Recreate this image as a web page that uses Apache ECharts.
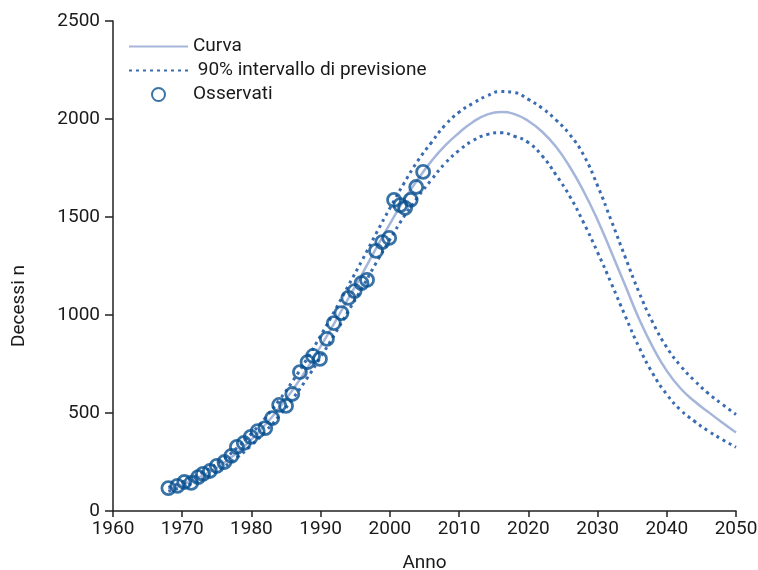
<!DOCTYPE html>
<html>
<head>
<meta charset="utf-8">
<script src="https://cdn.jsdelivr.net/npm/echarts@6/dist/echarts.min.js"></script>
<style>
  html, body { margin: 0; padding: 0; background: #fff; }
  #chart { width: 758px; height: 570px; }
</style>
</head>
<body>
<div id="chart"></div>
<script>
// fitted curve and 90% band, every 2 years
const curveYears = [1968, 1970, 1972, 1974, 1976, 1978, 1980, 1982, 1984, 1986, 1988, 1990, 1992, 1994, 1996, 1998,
    2000, 2002, 2004, 2006, 2008, 2010, 2012, 2014, 2016, 2018, 2020, 2022, 2024, 2026, 2028, 2030, 2032, 2034,
    2036, 2038, 2040, 2042, 2044, 2046, 2048, 2050]
const curveMid = [110, 135, 165, 200, 245, 300, 365, 440, 525, 620, 725, 840, 960, 1085, 1210, 1340,
    1465, 1585, 1690, 1785, 1865, 1930, 1985, 2022, 2036, 2025, 1990, 1935, 1858, 1755, 1630, 1485, 1320, 1150,
    980, 835, 715, 625, 560, 505, 452, 401]
const curveUpper = [120, 148, 180, 218, 265, 325, 395, 475, 565, 665, 775, 895, 1020, 1150, 1280, 1415,
    1545, 1670, 1785, 1880, 1970, 2035, 2080, 2118, 2140, 2135, 2100, 2055, 1995, 1920, 1815, 1660, 1480, 1295,
    1115, 960, 835, 740, 665, 600, 545, 492]
const curveLower = [100, 122, 150, 182, 225, 275, 335, 405, 485, 575, 675, 785, 900, 1020, 1140, 1265,
    1385, 1500, 1600, 1690, 1775, 1840, 1890, 1920, 1930, 1912, 1880, 1812, 1715, 1605, 1470, 1320, 1160, 995,
    835, 700, 595, 515, 458, 408, 365, 325]

// observed deaths
const obsYears = [1968.0, 1969.3, 1970.3, 1971.3, 1972.3, 1973.0, 1974.0, 1975.0, 1976.1, 1977.1, 1977.9, 1978.9,
    1979.9, 1980.9, 1982.0, 1983.0, 1984.0, 1985.0, 1985.9, 1987.0, 1988.1, 1988.9, 1989.9, 1990.9, 1991.9, 1993.0,
    1994.0, 1994.9, 1995.9, 1996.7, 1998.0, 1998.9, 1999.9, 2000.6, 2001.5, 2002.2, 2003.0, 2003.8, 2004.8]
const obsValues = [117, 128, 148, 143, 173, 189, 204, 230, 250, 281, 327, 347,
    378, 408, 423, 474, 541, 536, 597, 709, 760, 791, 776, 878, 959, 1010,
    1087, 1122, 1163, 1179, 1327, 1372, 1393, 1587, 1561, 1546, 1587, 1653, 1730]

const xTicks = [1960, 2050, 10]
const yTicks = [0, 2500, 500]

const bandName = ' 90% intervallo di previsione'
const font = 'Roboto, "Noto Sans", sans-serif'
const axisColor = '#222'

const pairs = (xs, ys) => xs.map((x, i) => [x, ys[i]])

const chart = echarts.init(document.getElementById('chart'))

const dotted = {
    color: '#3a6cb2',
    width: 3,
    type: [3, 4]
}

chart.setOption({
    animation: false,
    textStyle: { fontFamily: font },
    grid: { left: 113, right: 22, top: 21, bottom: 59, containLabel: false, outerBoundsMode: 'none' },
    legend: {
        orient: 'vertical',
        left: 123,
        top: 32,
        itemWidth: 59,
        itemHeight: 13,
        itemGap: 5,
        data: [
            { name: 'Curva', itemStyle: { opacity: 0 } },
            { name: bandName, itemStyle: { opacity: 0 } },
            { name: 'Osservati' }
        ],
        textStyle: { fontSize: 19, color: '#1a1a1a', fontFamily: font }
    },
    xAxis: {
        type: 'value',
        min: xTicks[0],
        max: xTicks[1],
        interval: xTicks[2],
        name: 'Anno',
        nameLocation: 'middle',
        nameGap: 43,
        nameTextStyle: { fontSize: 19, color: '#1a1a1a' },
        splitLine: { show: false },
        axisLine: { lineStyle: { color: axisColor, width: 1.5 } },
        axisTick: { lineStyle: { color: axisColor, width: 1.5 }, length: 6 },
        axisLabel: { color: '#1a1a1a', fontSize: 19, margin: 9, formatter: v => String(v) }
    },
    yAxis: {
        type: 'value',
        min: yTicks[0],
        max: yTicks[1],
        interval: yTicks[2],
        name: 'Decessi n',
        nameLocation: 'middle',
        nameGap: 84,
        nameTextStyle: { fontSize: 19, color: '#1a1a1a', padding: [0, 80, 0, 0] },
        splitLine: { show: false },
        axisLine: { show: true, lineStyle: { color: axisColor, width: 1.5 } },
        axisTick: { show: true, lineStyle: { color: axisColor, width: 1.5 }, length: 8 },
        axisLabel: { color: '#1a1a1a', fontSize: 19, margin: 13, formatter: v => String(v) }
    },
    series: [
        {
            name: 'Curva',
            type: 'line',
            data: pairs(curveYears, curveMid),
            smooth: 0.5,
            showSymbol: false,
            lineStyle: { color: '#a5b6da', width: 2.5 },
            itemStyle: { color: '#a5b6da' },
            z: 2
        },
        {
            name: bandName,
            type: 'line',
            data: pairs(curveYears, curveUpper),
            smooth: 0.5,
            showSymbol: false,
            lineStyle: dotted,
            itemStyle: { color: dotted.color },
            z: 2
        },
        {
            name: bandName,
            type: 'line',
            data: pairs(curveYears, curveLower),
            smooth: 0.5,
            showSymbol: false,
            lineStyle: dotted,
            itemStyle: { color: dotted.color },
            z: 2
        },
        {
            name: 'Osservati',
            type: 'scatter',
            data: pairs(obsYears, obsValues),
            symbol: 'circle',
            symbolSize: 13,
            itemStyle: {
                color: 'rgba(255,255,255,0)',
                borderColor: '#07508f',
                borderWidth: 2.8
            },
            z: 3
        }
    ]
})
</script>
</body>
</html>
